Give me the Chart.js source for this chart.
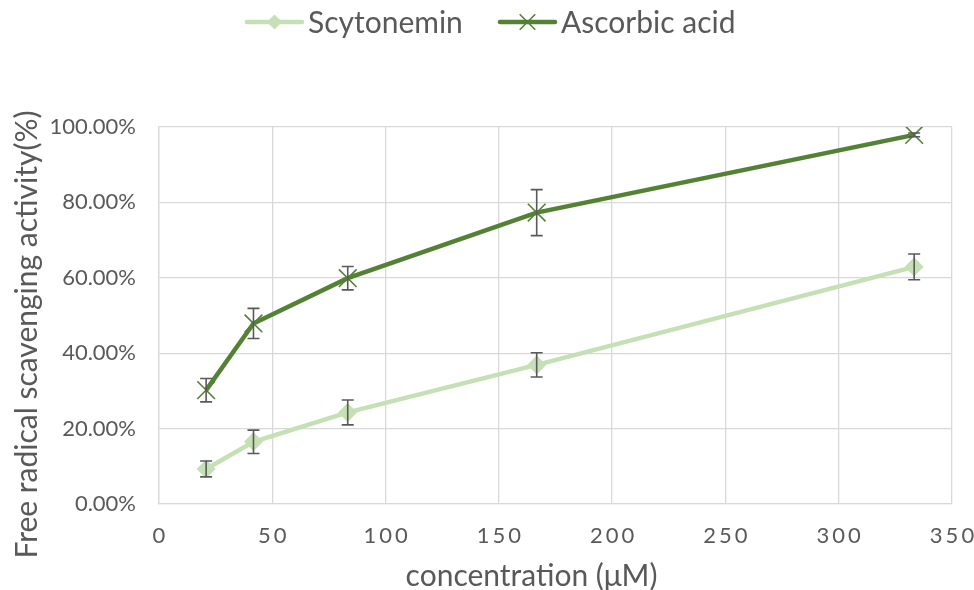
<!DOCTYPE html>
<html>
<head>
<meta charset="utf-8">
<script src="https://cdn.jsdelivr.net/npm/chart.js@4/dist/chart.umd.min.js"></script>
<style>
  html, body { margin: 0; padding: 0; background: #fff; }
  #wrap { width: 974px; height: 590px; }
</style>
</head>
<body>
<div id="wrap"><canvas id="chart" width="974" height="590"></canvas></div>
<script>
// concentrations (µM) and activity (fraction)
var concentrations = [20.8, 41.7, 83.3, 166.7, 333.3];
var scytonemin = [0.093, 0.165, 0.243, 0.369, 0.629];
var scytoneminErr = [0.021, 0.031, 0.033, 0.032, 0.034];
var ascorbic = [0.302, 0.479, 0.599, 0.773, 0.979];
var ascorbicErr = [0.031, 0.040, 0.031, 0.061, 0.005];
var seriesNames = ["Scytonemin", "Ascorbic acid"];

var FONT = "Lato, 'Open Sans', sans-serif";
var TEXT = "#595959";
var GRID = "#d9d9d9";

function points(ys) {
    return concentrations.map(function (x, i) { return { x: x, y: ys[i] }; });
}

// draw error bars through the chart's scales
var errorBars = {
    id: "errorBars",
    afterDatasetsDraw: function (chart) {
        var ctx = chart.ctx,
            xs = chart.scales.x,
            ys = chart.scales.y;
        ctx.save();
        ctx.strokeStyle = TEXT;
        ctx.lineWidth = 1.6;
        chart.data.datasets.forEach(function (ds) {
            ds.data.forEach(function (p, i) {
                var e = ds.errors[i],
                    px = xs.getPixelForValue(p.x),
                    top = ys.getPixelForValue(p.y + e),
                    bot = ys.getPixelForValue(p.y - e);
                ctx.beginPath();
                ctx.moveTo(px, top); ctx.lineTo(px, bot);
                ctx.moveTo(px - 6, top); ctx.lineTo(px + 6, top);
                ctx.moveTo(px - 6, bot); ctx.lineTo(px + 6, bot);
                ctx.stroke();
            });
        });
        ctx.restore();
    }
};

// small tweaks to where the axes put their text
function shift(scale, name, dx, dy, spacing) {
    var orig = scale[name];
    scale[name] = function (area) {
        var ctx = this.ctx;
        ctx.save();
        if (spacing) ctx.letterSpacing = spacing;
        ctx.translate(dx, dy);
        orig.call(this, area);
        ctx.restore();
    };
}

var axisText = {
    id: "axisText",
    afterUpdate: function (chart) {
        if (chart._shifted) return;
        shift(chart.scales.x, "drawLabels", 1.5, 0, "3px");
        shift(chart.scales.x, "drawTitle", -24, 0);
        shift(chart.scales.y, "drawTitle", 0, 19);
        chart._shifted = true;
    }
};

// legend in the Excel style: short line with the marker on it
var lineLegend = {
    id: "lineLegend",
    afterDraw: function (chart) {
        var ctx = chart.ctx,
            y = 22,
            starts = [247, 500];
        ctx.save();
        ctx.font = "30px " + FONT;
        ctx.textBaseline = "middle";
        chart.data.datasets.forEach(function (ds, i) {
            var x0 = starts[i];
            ctx.strokeStyle = ds.borderColor;
            ctx.lineWidth = ds.borderWidth;
            ctx.lineCap = "round";
            ctx.beginPath();
            ctx.moveTo(x0, y); ctx.lineTo(x0 + 55, y);
            ctx.stroke();
            ctx.lineCap = "butt";
            ctx.fillStyle = ds.pointBackgroundColor;
            ctx.strokeStyle = ds.pointBorderColor;
            ctx.lineWidth = ds.pointBorderWidth;
            Chart.helpers.drawPoint(ctx, {
                pointStyle: ds.pointStyle,
                rotation: 0,
                radius: ds.legendRadius,
                borderWidth: ds.pointBorderWidth
            }, x0 + 27.5, y);
            ctx.fillStyle = TEXT;
            ctx.fillText(ds.label, x0 + 61, y + 1);
        });
        ctx.restore();
    }
};

new Chart(document.getElementById("chart"), {
    type: "scatter",
    data: {
        datasets: [{
            label: seriesNames[0],
            data: points(scytonemin),
            errors: scytoneminErr,
            showLine: true,
            borderColor: "#c5e0b4",
            borderWidth: 4.5,
            pointStyle: "rectRot",
            pointRadius: 9,
            legendRadius: 7,
            pointBackgroundColor: "#c5e0b4",
            pointBorderColor: "#c5e0b4",
            pointBorderWidth: 1
        }, {
            label: seriesNames[1],
            data: points(ascorbic),
            errors: ascorbicErr,
            showLine: true,
            borderColor: "#548235",
            borderWidth: 4.5,
            pointStyle: "crossRot",
            pointRadius: 12.5,
            legendRadius: 11,
            pointBackgroundColor: "#548235",
            pointBorderColor: "#548235",
            pointBorderWidth: 1.6
        }]
    },
    options: {
        responsive: false,
        animation: false,
        layout: { padding: { top: 127, right: 0, left: 0, bottom: 0 } },
        plugins: {
            legend: { display: false },
            tooltip: { enabled: false }
        },
        scales: {
            x: {
                type: "linear",
                min: 0,
                max: 350,
                afterFit: function (s) { s.height = 86; s.paddingRight = 22; },
                ticks: {
                    stepSize: 50,
                    color: TEXT,
                    padding: 19,
                    font: { family: FONT, size: 22 }
                },
                grid: { color: GRID, lineWidth: 1.3, drawTicks: false },
                border: { color: GRID, width: 1.3 },
                title: {
                    display: true,
                    text: "concentration (μM)",
                    color: TEXT,
                    padding: { top: 0, bottom: 0 },
                    font: { family: FONT, size: 30, lineHeight: 0.9 }
                }
            },
            y: {
                min: 0,
                max: 1,
                afterFit: function (s) { s.width = 159; },
                ticks: {
                    stepSize: 0.2,
                    color: TEXT,
                    padding: 23,
                    font: { family: FONT, size: 22 },
                    callback: function (v) { return (v * 100).toFixed(2) + "%"; }
                },
                grid: { color: GRID, lineWidth: 1.3, drawTicks: false },
                border: { color: GRID, width: 1.3 },
                title: {
                    display: true,
                    text: "Free radical scavenging activity(%)",
                    color: TEXT,
                    padding: { top: 13.5, bottom: 0 },
                    font: { family: FONT, size: 30, lineHeight: 0.9 }
                }
            }
        }
    },
    plugins: [errorBars, axisText, lineLegend]
});
</script>
</body>
</html>
